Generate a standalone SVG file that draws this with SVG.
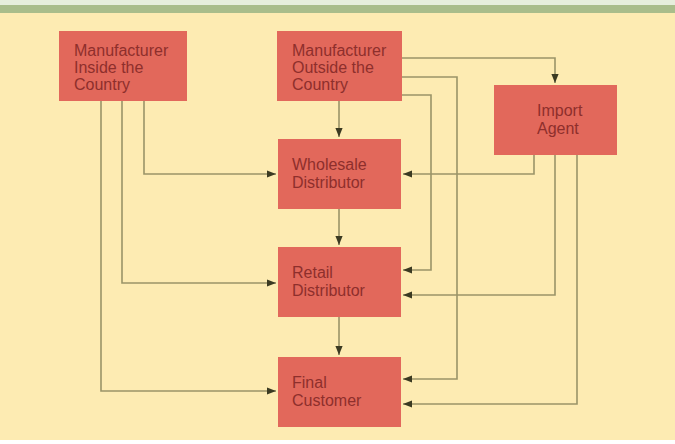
<svg xmlns="http://www.w3.org/2000/svg" width="675" height="444" viewBox="0 0 675 444">
<style>
.box{fill:#e2685b;}
.t{font-family:"Liberation Sans",Arial,sans-serif;font-size:16px;fill:#8e2f2c;}
.c{fill:none;stroke:#9a9468;stroke-width:1.6;}
</style>
<defs>
<marker id="ah" viewBox="0 0 10 10" refX="10" refY="5" markerWidth="9" markerHeight="9" markerUnits="userSpaceOnUse" orient="auto">
<path d="M0,1 L10,5 L0,9 Z" fill="#3b3a22"/>
</marker>
</defs>
<rect x="0" y="0" width="675" height="444" fill="#ffffff"/>
<rect x="0" y="0" width="675" height="5" fill="#e6eedc"/>
<rect x="0" y="5" width="675" height="8" fill="#a9bd8b"/>
<rect x="0" y="13" width="675" height="427" fill="#fdebb2"/>
<g id="connectors">
<path class="c" d="M144,101 V174 H276" marker-end="url(#ah)"/>
<path class="c" d="M122,101 V283 H276" marker-end="url(#ah)"/>
<path class="c" d="M101,101 V391 H276" marker-end="url(#ah)"/>
<path class="c" d="M339,101 V137" marker-end="url(#ah)"/>
<path class="c" d="M402,58 H555 V83" marker-end="url(#ah)"/>
<path class="c" d="M402,77 H457 V379 H403" marker-end="url(#ah)"/>
<path class="c" d="M402,95 H431 V270 H403" marker-end="url(#ah)"/>
<path class="c" d="M534,155 V174 H403" marker-end="url(#ah)"/>
<path class="c" d="M555,155 V295 H403" marker-end="url(#ah)"/>
<path class="c" d="M577,155 V404 H403" marker-end="url(#ah)"/>
<path class="c" d="M339,209 V245" marker-end="url(#ah)"/>
<path class="c" d="M339,317 V355" marker-end="url(#ah)"/>
</g>
<g id="mfr-inside">
<rect class="box" x="59" y="31" width="128" height="70"/>
<text class="t" x="74" y="56">Manufacturer</text>
<text class="t" x="74" y="73">Inside the</text>
<text class="t" x="74" y="90">Country</text>
</g>
<g id="mfr-outside">
<rect class="box" x="277" y="31" width="125" height="70"/>
<text class="t" x="292" y="56">Manufacturer</text>
<text class="t" x="292" y="73">Outside the</text>
<text class="t" x="292" y="90">Country</text>
</g>
<g id="import-agent">
<rect class="box" x="494" y="85" width="123" height="70"/>
<text class="t" x="537" y="116">Import</text>
<text class="t" x="537" y="134">Agent</text>
</g>
<g id="wholesale">
<rect class="box" x="278" y="139" width="123" height="70"/>
<text class="t" x="292" y="170">Wholesale</text>
<text class="t" x="292" y="188">Distributor</text>
</g>
<g id="retail">
<rect class="box" x="278" y="247" width="123" height="70"/>
<text class="t" x="292" y="278">Retail</text>
<text class="t" x="292" y="296">Distributor</text>
</g>
<g id="final">
<rect class="box" x="278" y="357" width="123" height="70"/>
<text class="t" x="292" y="388">Final</text>
<text class="t" x="292" y="406">Customer</text>
</g>
</svg>
